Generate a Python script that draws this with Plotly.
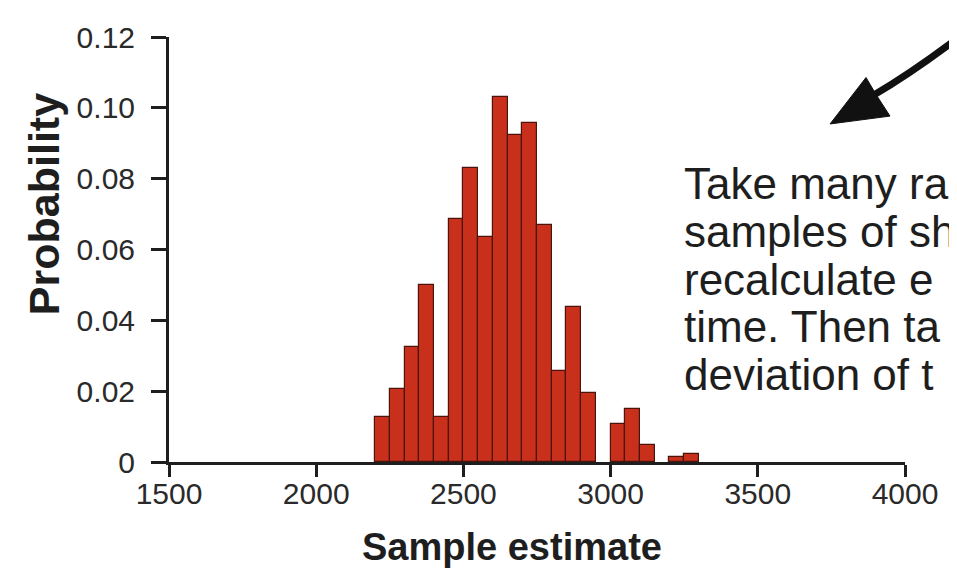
import plotly.graph_objects as go

# Histogram bins (left edges) and probabilities
bin_left = [2200, 2250, 2300, 2350, 2400, 2450, 2500, 2550, 2600, 2650, 2700,
            2750, 2800, 2850, 2900, 3000, 3050, 3100, 3200, 3250]
probability = [0.0126, 0.0205, 0.0325, 0.0501, 0.0126, 0.0686, 0.0831, 0.0635,
               0.1031, 0.0922, 0.0956, 0.0670, 0.0257, 0.0439, 0.0195, 0.0107,
               0.0149, 0.0047, 0.0015, 0.0024]
bin_width = 50

x_ticks = [1500, 2000, 2500, 3000, 3500, 4000]
y_ticks = [0, 0.02, 0.04, 0.06, 0.08, 0.10, 0.12]
y_tick_labels = ["0", "0.02", "0.04", "0.06", "0.08", "0.10", "0.12"]

note_lines = ["Take many ra", "samples of sh", "recalculate e", "time. Then ta", "deviation of t"]

# page body has an 8px margin; size the figure so it fills the window
OFF = 8
W, H = 957 - OFF, 572 - OFF
L, R, T, B = 168.5 - OFF, 52, 29.5 - OFF, 110
PW, PH = W - L - R, H - T - B

def px(x):
    return (x - OFF - L) / PW

def py(y):
    return (H - B - (y - OFF)) / PH

centers = [b + bin_width / 2 for b in bin_left]

fig = go.Figure()
fig.add_trace(go.Bar(
    x=centers, y=probability, width=bin_width,
    marker=dict(color="#c9301b", line=dict(color="#4a140c", width=1.2)),
    hoverinfo="x+y",
))

axis_common = dict(
    showline=True, linewidth=3, linecolor="#1e1e1e",
    ticks="outside", tickwidth=3, tickcolor="#1e1e1e",
    showgrid=False, zeroline=False,
    tickfont=dict(family="Liberation Sans, Arial, sans-serif", size=30, color="#2a2a2a"),
)

fig.update_xaxes(range=[1500, 4000], tickvals=x_ticks, ticklen=12, ticklabelstandoff=-9,
                 **axis_common)
fig.update_yaxes(range=[0, 0.12], tickvals=y_ticks, ticktext=y_tick_labels, ticklen=15,
                 ticklabelstandoff=10, **axis_common)

annotations = [
    dict(text="<b>Probability</b>", xref="paper", yref="paper", x=px(43), y=py(200),
         textangle=-90, showarrow=False, xanchor="center", yanchor="middle",
         font=dict(family="Liberation Sans, Arial, sans-serif", size=43, color="#1e1e1e")),
    dict(text="<b>Sample estimate</b>", xref="paper", yref="paper", x=px(512), y=py(548),
         showarrow=False, xanchor="center", yanchor="middle",
         font=dict(family="Liberation Sans, Arial, sans-serif", size=38, color="#1e1e1e")),
]
for i, line in enumerate(note_lines):
    baseline = 194 + 48.5 * i
    annotations.append(dict(
        text=line, xref="paper", yref="paper", x=px(682), y=py(baseline - 15.2),
        showarrow=False, xanchor="left", yanchor="middle",
        font=dict(family="Liberation Sans, Arial, sans-serif", size=44, color="#1e1e1e")))

def pt(x, y):
    return f"{px(x):.5f},{py(y):.5f}"

shaft = f"M {pt(990, 5)} Q {pt(925, 58)} {pt(873, 89)}"
head = f"M {pt(830, 118)} L {pt(866, 70.7)} L {pt(876, 88)} L {pt(890, 110)} Z"

fig.update_layout(
    width=W, height=H,
    margin=dict(l=L, r=R, t=T, b=B, pad=0),
    paper_bgcolor="white", plot_bgcolor="white",
    showlegend=False, bargap=0,
    annotations=annotations,
    shapes=[
        dict(type="path", path=shaft, xref="paper", yref="paper",
             line=dict(color="#111111", width=7), layer="above"),
        dict(type="path", path=head, xref="paper", yref="paper",
             line=dict(color="#111111", width=1), fillcolor="#111111", layer="above"),
    ],
)

fig.write_html("out.html")
